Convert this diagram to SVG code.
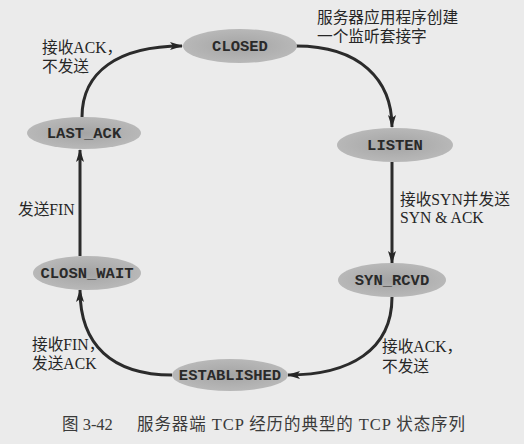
<svg xmlns="http://www.w3.org/2000/svg" width="524" height="444" viewBox="0 0 524 444">
<defs>
<marker id="ah" viewBox="0 0 13 8" refX="12" refY="4" markerWidth="13" markerHeight="8" markerUnits="userSpaceOnUse" orient="auto">
<path d="M0,0 L13,4 L0,8 L3,4 Z" fill="#262626"/>
</marker>
<radialGradient id="g" cx="50%" cy="50%" r="50%">
<stop offset="0" stop-color="#a4a4a4"/>
<stop offset="1" stop-color="#b8b8b8"/>
</radialGradient>
</defs>
<style>
.n{fill:url(#g);}
.nt{font-family:"Liberation Mono",monospace;font-weight:bold;font-size:15.5px;fill:#2a2a2a;text-anchor:middle;}
.c{fill:none;stroke:#2b2b2b;stroke-width:3;marker-end:url(#ah);}
.l{font-family:"Liberation Serif","Noto Sans CJK SC",serif;font-size:15.7px;fill:#262626;}
.cap{font-family:"Liberation Serif","Noto Sans CJK SC",serif;font-size:16.5px;fill:#3a3a3a;}
</style>
<rect width="524" height="444" fill="#ebebeb"/>
<g id="connectors">
<path class="c" d="M296,46 C360,46 392,80 392,127"/>
<path class="c" d="M392,162 L392,263"/>
<path class="c" d="M392,297 C392,350 350,375 288,375"/>
<path class="c" d="M172,375 C112,375 80,345 80,290"/>
<path class="c" d="M80,256 L80,150"/>
<path class="c" d="M82,117 C82,72 118,46 182,46"/>
</g>
<g id="closed"><ellipse class="n" cx="240" cy="46" rx="57" ry="17"/><text class="nt" x="240" y="51">CLOSED</text></g>
<g id="listen"><ellipse class="n" cx="395" cy="145" rx="58" ry="17"/><text class="nt" x="395" y="150">LISTEN</text></g>
<g id="syn_rcvd"><ellipse class="n" cx="392" cy="280" rx="54" ry="17"/><text class="nt" x="392" y="285">SYN_RCVD</text></g>
<g id="established"><ellipse class="n" cx="230" cy="375" rx="58" ry="16"/><text class="nt" x="230" y="380">ESTABLISHED</text></g>
<g id="closn_wait"><ellipse class="n" cx="87" cy="273" rx="54" ry="17"/><text class="nt" x="87" y="278">CLOSN_WAIT</text></g>
<g id="last_ack"><ellipse class="n" cx="84" cy="133" rx="57" ry="16"/><text class="nt" x="84" y="138">LAST_ACK</text></g>
<g id="labels">
<text class="l" x="42" y="53">接收ACK，</text>
<text class="l" x="42" y="72">不发送</text>
<text class="l" x="317" y="23">服务器应用程序创建</text>
<text class="l" x="317" y="42">一个监听套接字</text>
<text class="l" x="400" y="205">接收SYN并发送</text>
<text class="l" x="400" y="223">SYN &amp; ACK</text>
<text class="l" x="18" y="215">发送FIN</text>
<text class="l" x="32" y="350">接收FIN，</text>
<text class="l" x="32" y="369">发送ACK</text>
<text class="l" x="382" y="352">接收ACK，</text>
<text class="l" x="382" y="372">不发送</text>
<text class="cap" x="62" y="430">图 3-42</text>
<text class="cap" x="137" y="430" textLength="328" lengthAdjust="spacing">服务器端 TCP 经历的典型的 TCP 状态序列</text>
</g>
</svg>
